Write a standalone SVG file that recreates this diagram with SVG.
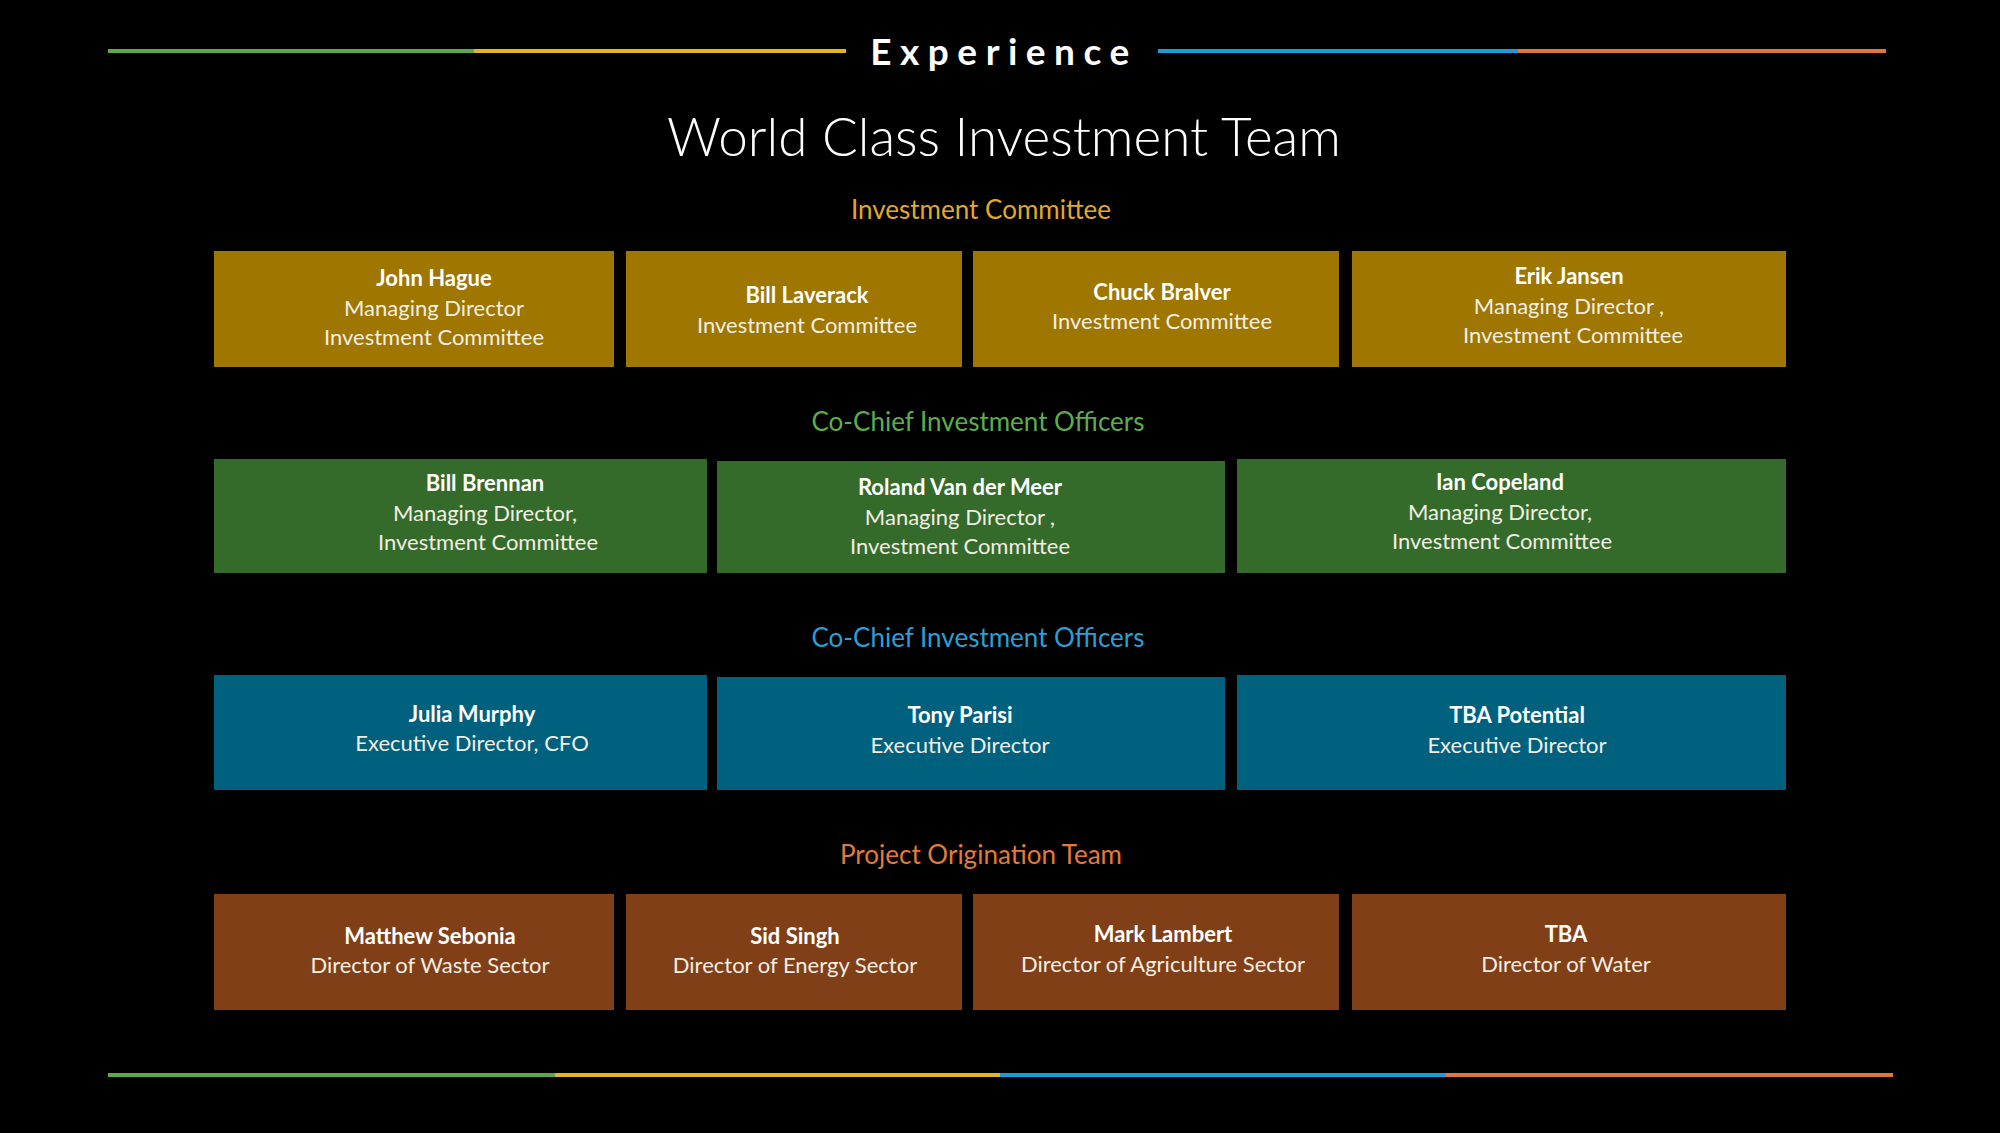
<svg xmlns="http://www.w3.org/2000/svg" width="2000" height="1133" viewBox="0 0 2000 1133">
<style>
.bg{fill:#000}
.name{font-family:Lato,"Liberation Sans",sans-serif;font-weight:bold;font-size:22px;fill:#FFFFFF;text-anchor:middle}
.sub{font-family:Lato,"Liberation Sans",sans-serif;font-size:22px;fill:#F2EEE4;text-anchor:middle}
.head{font-family:Lato,"Liberation Sans",sans-serif;font-size:26px;text-anchor:middle}
.gold{fill:#9E7600}
.green{fill:#346B2B}
.teal{fill:#00617F}
.brown{fill:#813F17}
</style>
<rect class="bg" x="0" y="0" width="2000" height="1133"/>
<g id="header">
<line x1="108" y1="51" x2="474" y2="51" stroke="#5EA84A" stroke-width="4"/>
<line x1="474" y1="51" x2="846" y2="51" stroke="#E2B42A" stroke-width="4"/>
<line x1="1158" y1="51" x2="1518" y2="51" stroke="#1E9BD7" stroke-width="4"/>
<line x1="1518" y1="51" x2="1886" y2="51" stroke="#E0783C" stroke-width="4"/>
<text x="1004" y="65" font-family="Lato,'Liberation Sans',sans-serif" font-weight="bold" font-size="37" letter-spacing="8.5" fill="#FFFFFF" text-anchor="middle">Experience</text>
<text x="1004" y="156" font-family="Lato,'Liberation Sans',sans-serif" font-weight="300" font-size="53" fill="#FFFFFF" text-anchor="middle">World Class Investment Team</text>
</g>
<g id="section-headings">
<text class="head" x="981" y="219" fill="#E0A92E">Investment Committee</text>
<text class="head" x="978" y="431" fill="#5CAE48">Co-Chief Investment Officers</text>
<text class="head" x="978" y="647" fill="#2A9FD6">Co-Chief Investment Officers</text>
<text class="head" x="981" y="864" fill="#E27B3A">Project Origination Team</text>
</g>
<g id="john-hague"><rect class="gold" x="214" y="251" width="400" height="116"/>
<text class="name" x="434" y="286">John Hague</text><text class="sub" x="434" y="316">Managing Director</text><text class="sub" x="434" y="345">Investment Committee</text></g>
<g id="bill-laverack"><rect class="gold" x="626" y="251" width="336" height="116"/>
<text class="name" x="807" y="303">Bill Laverack</text><text class="sub" x="807" y="333">Investment Committee</text></g>
<g id="chuck-bralver"><rect class="gold" x="973" y="251" width="366" height="116"/>
<text class="name" x="1162" y="300">Chuck Bralver</text><text class="sub" x="1162" y="329">Investment Committee</text></g>
<g id="erik-jansen"><rect class="gold" x="1352" y="251" width="434" height="116"/>
<text class="name" x="1569" y="284">Erik Jansen</text><text class="sub" x="1569" y="314">Managing Director ,</text><text class="sub" x="1573" y="343">Investment Committee</text></g>

<g id="bill-brennan"><rect class="green" x="214" y="459" width="493" height="114"/>
<text class="name" x="485" y="491">Bill Brennan</text><text class="sub" x="485" y="521">Managing Director,</text><text class="sub" x="488" y="550">Investment Committee</text></g>
<g id="roland-van-der-meer"><rect class="green" x="717" y="461" width="508" height="112"/>
<text class="name" x="960" y="495">Roland Van der Meer</text><text class="sub" x="960" y="525">Managing Director ,</text><text class="sub" x="960" y="554">Investment Committee</text></g>
<g id="ian-copeland"><rect class="green" x="1237" y="459" width="549" height="114"/>
<text class="name" x="1500" y="490">Ian Copeland</text><text class="sub" x="1500" y="520">Managing Director,</text><text class="sub" x="1502" y="549">Investment Committee</text></g>

<g id="julia-murphy"><rect class="teal" x="214" y="675" width="493" height="115"/>
<text class="name" x="472" y="722">Julia Murphy</text><text class="sub" x="472" y="751">Executive Director, CFO</text></g>
<g id="tony-parisi"><rect class="teal" x="717" y="677" width="508" height="113"/>
<text class="name" x="960" y="723">Tony Parisi</text><text class="sub" x="960" y="753">Executive Director</text></g>
<g id="tba-potential"><rect class="teal" x="1237" y="675" width="549" height="115"/>
<text class="name" x="1517" y="723">TBA Potential</text><text class="sub" x="1517" y="753">Executive Director</text></g>

<g id="matthew-sebonia"><rect class="brown" x="214" y="894" width="400" height="116"/>
<text class="name" x="430" y="944">Matthew Sebonia</text><text class="sub" x="430" y="973">Director of Waste Sector</text></g>
<g id="sid-singh"><rect class="brown" x="626" y="894" width="336" height="116"/>
<text class="name" x="795" y="944">Sid Singh</text><text class="sub" x="795" y="973">Director of Energy Sector</text></g>
<g id="mark-lambert"><rect class="brown" x="973" y="894" width="366" height="116"/>
<text class="name" x="1163" y="942">Mark Lambert</text><text class="sub" x="1163" y="972">Director of Agriculture Sector</text></g>
<g id="tba-water"><rect class="brown" x="1352" y="894" width="434" height="116"/>
<text class="name" x="1566" y="942">TBA</text><text class="sub" x="1566" y="972">Director of Water</text></g>

<g id="connectors"></g>
<g id="footer">
<line x1="108" y1="1075" x2="555" y2="1075" stroke="#5EA84A" stroke-width="4"/>
<line x1="555" y1="1075" x2="1000" y2="1075" stroke="#E2B42A" stroke-width="4"/>
<line x1="1000" y1="1075" x2="1445" y2="1075" stroke="#1E9BD7" stroke-width="4"/>
<line x1="1445" y1="1075" x2="1893" y2="1075" stroke="#E0783C" stroke-width="4"/>
</g>
</svg>
